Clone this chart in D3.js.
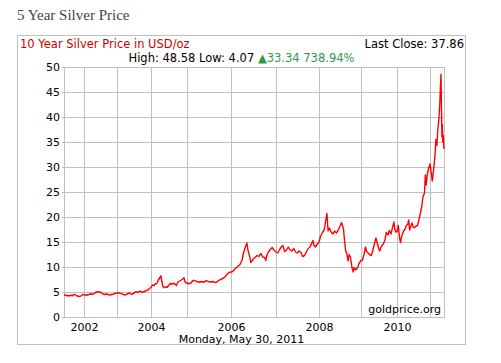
<!DOCTYPE html>
<html>
<head>
<meta charset="utf-8">
<script src="https://cdn.jsdelivr.net/npm/d3@7"></script>
<style>
  body { margin: 0; background: #fff; }
  text { font-family: "DejaVu Sans", Verdana, sans-serif; font-size: 11px; }
</style>
</head>
<body>
<div id="wrapper"></div>
<script>
// access data
const dates = [
  '2001-05-30','2001-06-15','2001-07-01','2001-07-15','2001-08-01','2001-08-15','2001-09-01','2001-09-15','2001-10-01','2001-10-15','2001-11-01','2001-11-15','2001-12-01','2001-12-15',
  '2002-01-01','2002-01-15','2002-02-01','2002-02-15','2002-03-01','2002-03-15','2002-04-01','2002-04-15','2002-05-01','2002-05-15','2002-06-01','2002-06-15','2002-07-01','2002-07-15','2002-08-01','2002-08-15','2002-09-01','2002-09-15','2002-10-01','2002-10-15','2002-11-01','2002-11-15','2002-12-01','2002-12-15',
  '2003-01-01','2003-01-15','2003-02-01','2003-02-15','2003-03-01','2003-03-15','2003-04-01','2003-04-15','2003-05-01','2003-05-15','2003-06-01','2003-06-15','2003-07-01','2003-07-15','2003-08-01','2003-08-15','2003-09-01','2003-09-15','2003-10-01','2003-10-15','2003-11-01','2003-11-15','2003-12-01','2003-12-15',
  '2004-01-01','2004-01-15','2004-02-01','2004-02-15','2004-03-01','2004-03-15','2004-04-01','2004-04-10','2004-04-20','2004-05-01','2004-05-15','2004-06-01','2004-06-15','2004-07-01','2004-07-15','2004-08-01','2004-08-15','2004-09-01','2004-09-15','2004-10-01','2004-10-15','2004-11-01','2004-11-15','2004-12-01','2004-12-15',
  '2005-01-01','2005-01-15','2005-02-01','2005-02-15','2005-03-01','2005-03-15','2005-04-01','2005-04-15','2005-05-01','2005-05-15','2005-06-01','2005-06-15','2005-07-01','2005-07-15','2005-08-01','2005-08-15','2005-09-01','2005-09-15','2005-10-01','2005-10-15','2005-11-01','2005-11-15','2005-12-01','2005-12-15',
  '2006-01-01','2006-01-15','2006-02-01','2006-02-15','2006-03-01','2006-03-15','2006-04-01','2006-04-10','2006-04-20','2006-05-01','2006-05-10','2006-05-20','2006-06-01','2006-06-10','2006-06-20','2006-07-01','2006-07-15','2006-08-01','2006-08-15','2006-09-01','2006-09-15','2006-10-01','2006-10-10','2006-10-20','2006-11-01','2006-11-15','2006-12-01','2006-12-15',
  '2007-01-01','2007-01-15','2007-02-01','2007-02-15','2007-03-01','2007-03-15','2007-04-01','2007-04-15','2007-05-01','2007-05-15','2007-06-01','2007-06-15','2007-07-01','2007-07-15','2007-08-01','2007-08-15','2007-09-01','2007-09-15','2007-10-01','2007-10-15','2007-11-01','2007-11-10','2007-11-20','2007-12-01','2007-12-15',
  '2008-01-01','2008-01-15','2008-02-01','2008-02-15','2008-03-01','2008-03-10','2008-03-20','2008-04-01','2008-04-15','2008-05-01','2008-05-15','2008-06-01','2008-06-15','2008-07-01','2008-07-15','2008-08-01','2008-08-10','2008-08-20','2008-09-01','2008-09-10','2008-09-20','2008-10-01','2008-10-15','2008-10-25','2008-11-01','2008-11-15','2008-12-01','2008-12-15',
  '2009-01-01','2009-01-15','2009-02-01','2009-02-15','2009-03-01','2009-03-15','2009-04-01','2009-04-15','2009-05-01','2009-05-15','2009-06-01','2009-06-15','2009-07-01','2009-07-10','2009-07-20','2009-08-01','2009-08-15','2009-09-01','2009-09-15','2009-10-01','2009-10-15','2009-11-01','2009-11-15','2009-12-01','2009-12-10','2009-12-20',
  '2010-01-01','2010-01-15','2010-02-01','2010-02-10','2010-02-20','2010-03-01','2010-03-15','2010-04-01','2010-04-15','2010-05-01','2010-05-10','2010-05-20','2010-06-01','2010-06-15','2010-07-01','2010-07-15','2010-08-01','2010-08-15','2010-09-01','2010-09-15','2010-10-01','2010-10-15','2010-11-01','2010-11-10','2010-11-20','2010-12-01','2010-12-15',
  '2011-01-01','2011-01-10','2011-01-25','2011-02-05','2011-02-15','2011-02-25','2011-03-05','2011-03-15','2011-03-25','2011-04-05','2011-04-15','2011-04-22','2011-04-28','2011-05-03','2011-05-08','2011-05-12','2011-05-17','2011-05-22','2011-05-30'
];

const prices = [
  4.45, 4.35, 4.25, 4.30, 4.25, 4.35, 4.25, 4.55, 4.40, 4.25, 4.15, 4.07, 4.25, 4.45,
  4.50, 4.35, 4.45, 4.40, 4.55, 4.65, 4.55, 4.60, 4.75, 5.00, 5.05, 4.95, 5.00, 4.80, 4.60, 4.50, 4.60, 4.55, 4.45, 4.40, 4.50, 4.55, 4.65, 4.75,
  4.80, 4.85, 4.80, 4.65, 4.60, 4.45, 4.40, 4.55, 4.70, 4.80, 4.55, 4.60, 4.75, 5.00, 5.05, 4.90, 5.20, 5.05, 4.95, 5.05, 5.15, 5.35, 5.40, 5.70,
  5.95, 6.40, 6.30, 6.65, 6.70, 7.40, 7.90, 8.25, 7.20, 6.10, 5.85, 6.05, 5.95, 6.40, 6.70, 6.55, 6.75, 6.60, 6.30, 7.00, 7.15, 7.35, 7.55, 7.85, 6.90,
  6.80, 6.65, 6.75, 7.20, 7.35, 7.15, 7.05, 6.95, 7.10, 6.95, 7.15, 7.25, 7.05, 7.00, 7.10, 6.95, 6.90, 7.20, 7.45, 7.60, 7.80, 8.10, 8.60, 8.90,
  9.00, 9.10, 9.60, 9.90, 10.2, 10.5, 11.4, 12.6, 13.4, 14.2, 14.8, 13.2, 12.2, 10.9, 11.2, 11.6, 11.9, 12.3, 12.1, 12.7, 12.0, 11.9, 11.3, 12.4, 13.0, 13.5, 13.9, 13.4,
  13.0, 12.8, 13.5, 14.0, 14.3, 13.1, 13.4, 14.0, 13.4, 13.2, 13.7, 13.0, 12.8, 13.2, 12.9, 12.1, 12.3, 13.0, 13.7, 13.9, 14.8, 15.3, 14.3, 14.0, 14.5,
  15.0, 16.2, 16.9, 17.4, 19.5, 20.7, 17.2, 17.8, 17.0, 16.6, 17.2, 16.8, 17.3, 18.1, 18.9, 17.7, 15.4, 13.3, 12.5, 11.2, 12.5, 12.0, 9.8, 9.0, 9.9, 9.4, 9.8, 10.7,
  11.3, 11.4, 12.5, 14.0, 13.0, 12.8, 12.4, 12.3, 13.3, 14.5, 15.8, 14.8, 13.6, 13.2, 13.8, 14.3, 14.6, 15.4, 16.9, 16.4, 17.3, 16.6, 17.8, 19.0, 17.5, 17.0,
  17.1, 18.3, 15.5, 14.9, 16.0, 16.5, 17.2, 17.6, 18.3, 18.6, 19.4, 17.4, 18.1, 18.8, 17.9, 17.9, 18.2, 18.3, 19.5, 20.6, 22.0, 24.0, 24.8, 28.4, 26.4, 28.3, 29.6,
  30.6, 29.5, 27.2, 28.9, 30.5, 33.0, 35.5, 34.3, 37.5, 39.5, 42.5, 46.0, 48.58, 42.0, 36.0, 38.5, 35.0, 36.3, 33.6
];

const yTicks = [0, 5, 10, 15, 20, 25, 30, 35, 40, 45, 50];
const yearTicks = [2002, 2003, 2004, 2005, 2006, 2007, 2008, 2009, 2010, 2011];
const labelYears = [2002, 2004, 2006, 2008, 2010];

const titleText = '5 Year Silver Price';
const chartTitle = '10 Year Silver Price in USD/oz';
const lastClose = 'Last Close: 37.86';
const highLow = 'High: 48.58 Low: 4.07 ';
const change = '33.34 738.94%';
const dateLine = 'Monday, May 30, 2011';
const credit = 'goldprice.org';

const parseDate = d3.timeParse('%Y-%m-%d');
const dataset = dates.map((d, i) => ({ date: parseDate(d), price: prices[i] }));

// chart dimensions
const dimensions = {
  width: 501,
  height: 363,
  box: { left: 17.5, top: 35.5, right: 465.5, bottom: 344.5 },
  plot: { left: 64, top: 67, right: 444, bottom: 317 }
};

// the source axis is not uniform in time: one stop per year boundary
const xDomain = [parseDate('2001-05-30')]
  .concat(yearTicks.map(y => new Date(y, 0, 1)))
  .concat([parseDate('2011-05-30')]);
const xRange = [64, 84, 117, 151, 187, 231, 276, 319, 361, 397, 430, 444];

const wrapper = d3.select('#wrapper')
  .append('svg')
  .attr('width', dimensions.width)
  .attr('height', dimensions.height);

const gridColor = '#c0c0c0';

// headings
wrapper.append('text')
  .attr('x', 17)
  .attr('y', 20)
  .style('font-family', 'Georgia, "Liberation Serif", serif')
  .style('font-size', '15px')
  .attr('fill', '#444')
  .text(titleText);

wrapper.append('rect')
  .attr('x', dimensions.box.left)
  .attr('y', dimensions.box.top)
  .attr('width', dimensions.box.right - dimensions.box.left)
  .attr('height', dimensions.box.bottom - dimensions.box.top)
  .attr('fill', 'none')
  .attr('stroke', gridColor);

wrapper.append('text')
  .attr('x', 20)
  .attr('y', 47.5)
  .style('font-size', '11.5px')
  .attr('fill', '#cc0000')
  .text(chartTitle);

wrapper.append('text')
  .attr('x', 464)
  .attr('y', 47.5)
  .attr('text-anchor', 'end')
  .style('font-size', '11.5px')
  .attr('fill', '#000')
  .text(lastClose);

const stats = wrapper.append('text')
  .attr('x', 241.5)
  .attr('y', 62)
  .attr('text-anchor', 'middle')
  .style('font-size', '11.5px');
stats.append('tspan').attr('fill', '#000').text(highLow);
stats.append('tspan').attr('fill', '#2e9a48').text('\u25B2' + change);

// scales
const xScale = d3.scaleTime().domain(xDomain).range(xRange);
const yScale = d3.scaleLinear()
  .domain([0, 50])
  .range([dimensions.plot.bottom, dimensions.plot.top]);

const plotW = dimensions.plot.right - dimensions.plot.left;
const plotH = dimensions.plot.bottom - dimensions.plot.top;

// peripherals
const yAxis = wrapper.append('g')
  .attr('transform', `translate(${dimensions.plot.left - 2},0)`)
  .call(d3.axisLeft(yScale)
    .tickValues(yTicks)
    .tickSizeInner(-(plotW + 2))
    .tickSizeOuter(0)
    .tickPadding(2));

const xAxis = wrapper.append('g')
  .attr('transform', `translate(0,${dimensions.plot.bottom})`)
  .call(d3.axisBottom(xScale)
    .tickValues(yearTicks.map(y => new Date(y, 0, 1)))
    .tickSizeInner(-plotH)
    .tickSizeOuter(0)
    .tickPadding(6)
    .tickFormat(d => labelYears.includes(d.getFullYear()) ? d.getFullYear() : ''));

[yAxis, xAxis].forEach(axis => {
  axis.select('.domain').remove();
  axis.selectAll('line').attr('stroke', gridColor);
  axis.selectAll('text')
    .attr('fill', '#000')
    .style('font-family', '"DejaVu Sans", Verdana, sans-serif')
    .style('font-size', '11px');
});

wrapper.append('rect')
  .attr('x', dimensions.plot.left + 0.5)
  .attr('y', dimensions.plot.top + 0.5)
  .attr('width', plotW)
  .attr('height', plotH)
  .attr('fill', 'none')
  .attr('stroke', gridColor);

// draw data
const lineGenerator = d3.line()
  .x(d => xScale(d.date))
  .y(d => yScale(d.price));

wrapper.append('path')
  .datum(dataset)
  .attr('d', lineGenerator)
  .attr('fill', 'none')
  .attr('stroke', '#ff0000')
  .attr('stroke-width', 1.4)
  .attr('stroke-linejoin', 'round');

wrapper.append('text')
  .attr('x', 441)
  .attr('y', 313)
  .attr('text-anchor', 'end')
  .attr('fill', '#000')
  .text(credit);

wrapper.append('text')
  .attr('x', 241.5)
  .attr('y', 343)
  .attr('text-anchor', 'middle')
  .attr('fill', '#000')
  .text(dateLine);
</script>
</body>
</html>
